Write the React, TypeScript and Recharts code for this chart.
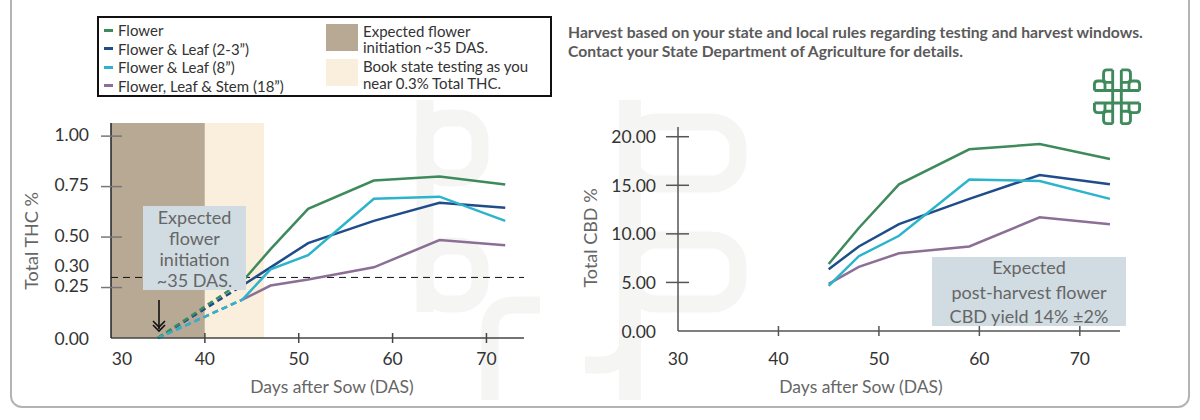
import React from "react"
import { LineChart, Line, XAxis, YAxis, ReferenceArea, ReferenceLine } from "recharts"

// sampling days (DAS) for each panel
const thcDays = [35, 44, 47, 51, 58, 65, 72]
const cbdDays = [45, 48, 52, 59, 66, 73]

// Total THC % (left panel); first two samples are drawn dashed
const thcFlower = [0, 0.28, 0.44, 0.64, 0.78, 0.8, 0.76]
const thcLeaf23 = [0, 0.26, 0.35, 0.47, 0.58, 0.67, 0.645]
const thcLeaf8 = [0, 0.19, 0.34, 0.41, 0.69, 0.7, 0.58]
const thcStem18 = [0, 0.19, 0.26, 0.29, 0.35, 0.485, 0.46]
const dashedUntil = 1 // index of last dashed sample (44 DAS)

// Total CBD % (right panel)
const cbdFlower = [6.9, 10.6, 15.1, 18.7, 19.25, 17.7]
const cbdLeaf23 = [6.35, 8.7, 11.0, 13.6, 16.05, 15.1]
const cbdLeaf8 = [4.65, 7.7, 9.8, 15.6, 15.45, 13.6]
const cbdStem18 = [4.85, 6.6, 8.0, 8.7, 11.7, 11.0]

const dayTicks = [30, 40, 50, 60, 70]
const thcTicks = [0, 0.25, 0.3, 0.5, 0.75, 1]
const cbdTicks = [0, 5, 10, 15, 20]

const seriesNames = ["Flower", "Flower & Leaf (2-3\u201d)", "Flower & Leaf (8\u201d)", "Flower, Leaf & Stem (18\u201d)"]
const seriesColors = ["#3f8a5c", "#1f4d8a", "#2bb4cc", "#8b6f95"]
const drawOrder = [3, 1, 0, 2]

const thcSeries = [thcFlower, thcLeaf23, thcLeaf8, thcStem18]
const cbdSeries = [cbdFlower, cbdLeaf23, cbdLeaf8, cbdStem18]

const font = "Lato, 'Open Sans', 'DejaVu Sans', sans-serif"

const thcRows = thcDays.map((day, i) => {
    const row: Record<string, number | null> = { day }
    thcSeries.forEach((s, k) => {
        row[`e${k}`] = i <= dashedUntil ? s[i] : null
        row[`l${k}`] = i >= dashedUntil ? s[i] : null
    })
    return row
})

const cbdRows = cbdDays.map((day, i) => {
    const row: Record<string, number> = { day }
    cbdSeries.forEach((s, k) => {
        row[`s${k}`] = s[i]
    })
    return row
})

function ThcYTick(props: any) {
    const { x, y, payload } = props
    const v = payload.value as number
    const dy = v === 0.3 ? -12 : -2
    return (
        <g>
            {v !== 0 && v !== 0.3 && <line x1={x - 10} x2={x + 11} y1={y} y2={y} stroke="#777" strokeWidth={1.5} />}
            <text x={x - 22} y={y + (v === 0 ? 0 : dy)} textAnchor="end" dominantBaseline="central" fontSize={17.5} fill="#333" fontFamily={font}>
                {v.toFixed(2)}
            </text>
        </g>
    )
}

function CbdYTick(props: any) {
    const { x, y, payload } = props
    const v = payload.value as number
    return (
        <g>
            {v !== 0 && <line x1={x - 12} x2={x + 11} y1={y} y2={y} stroke="#555" strokeWidth={1.5} />}
            <text x={x - 22} y={y} textAnchor="end" dominantBaseline="central" fontSize={17.5} fill="#333" fontFamily={font}>
                {v.toFixed(2)}
            </text>
        </g>
    )
}

function makeXTick(dyLabel: number, firstShift: number, color: string) {
    return function XTick(props: any) {
        const { x, y, payload } = props
        const v = payload.value as number
        return (
            <g>
                {v !== 30 && <line x1={x} x2={x} y1={y - 5} y2={y + 5} stroke={color} strokeWidth={1.5} />}
                <text x={v === 30 ? x + firstShift : x} y={y + dyLabel} textAnchor="middle" dominantBaseline="central" fontSize={17.5} fill="#333" fontFamily={font}>
                    {v}
                </text>
            </g>
        )
    }
}

const ThcXTick = makeXTick(20, 11, "#444")
const CbdXTick = makeXTick(27, 0, "#555")

function logoPaths() {
    return [
        "M41,4 L41,116", "M59,4 L59,116", "M3,47 L97,47", "M3,73 L97,73",
        "M41,30 L29,30 Q22,30 22,23 L22,11 Q22,4 29,4 L41,4",
        "M59,30 L71,30 Q78,30 78,23 L78,11 Q78,4 71,4 L59,4",
        "M41,90 L29,90 Q22,90 22,97 L22,109 Q22,116 29,116 L41,116",
        "M59,90 L71,90 Q78,90 78,97 L78,109 Q78,116 71,116 L59,116",
        "M3,47 L3,34 Q3,27 10,27 L18,27 Q25,27 25,34 L25,47",
        "M97,47 L97,34 Q97,27 90,27 L82,27 Q75,27 75,34 L75,47",
        "M3,73 L3,86 Q3,93 10,93 L18,93 Q25,93 25,86 L25,73",
        "M97,73 L97,86 Q97,93 90,93 L82,93 Q75,93 75,86 L75,73",
    ]
}

export default function App() {
    return (
        <div style={{ position: "absolute", left: 0, top: 0, width: 1200, height: 420, background: "#fff", overflow: "hidden", fontFamily: font }}>
            {/* frame */}
            <div style={{ position: "absolute", left: 10, top: -20, width: 1176, height: 424, border: "2px solid #b3b3b3", borderRadius: 12 }} />

            {/* faint watermark */}
            <svg width={1200} height={420} style={{ position: "absolute", left: 0, top: 0 }}>
                <g stroke="#f5f6f4" strokeWidth={17} fill="none" strokeLinejoin="round">
                    <path d="M425,100 L425,312" />
                    <rect x={425} y={118} width={55} height={60} rx={22} />
                    <rect x={425} y={246} width={55} height={58} rx={22} />
                    <path d="M490,400 L490,330 Q490,305 515,305 L540,305" />
                    <path d="M630,100 L630,400" strokeWidth={22} />
                    <rect x={630} y={122} width={108} height={62} rx={26} />
                    <rect x={630} y={240} width={108} height={64} rx={26} />
                    <path d="M630,330 Q630,365 600,365 L585,365" />
                </g>
            </svg>

            {/* left panel: Total THC % */}
            <div style={{ position: "absolute", left: 0, top: 0 }}>
                <LineChart width={560} height={420} data={thcRows} margin={{ top: 123, left: 51, right: 36, bottom: 42 }}>
                    <ReferenceArea x1={30} x2={40} y1={0} y2={1.065} fill="#b8a994" fillOpacity={1} stroke="none" />
                    <ReferenceArea x1={40} x2={46.3} y1={0} y2={1.065} fill="#faeedd" fillOpacity={1} stroke="none" />
                    <XAxis
                        dataKey="day"
                        type="number"
                        domain={[30, 74]}
                        ticks={dayTicks}
                        interval={0}
                        height={40}
                        tickSize={0}
                        tickMargin={0}
                        tickLine={false}
                        tick={<ThcXTick />}
                        axisLine={{ stroke: "#444", strokeWidth: 1.5 }}
                    />
                    <YAxis
                        type="number"
                        domain={[0, 1.065]}
                        ticks={thcTicks}
                        interval={0}
                        width={60}
                        tickSize={0}
                        tickMargin={0}
                        tickLine={false}
                        tick={<ThcYTick />}
                        axisLine={{ stroke: "#222", strokeWidth: 1.5 }}
                    />
                    <ReferenceLine y={0.3} stroke="#111" strokeDasharray="7 5" strokeWidth={1} />
                    {drawOrder.map((k) => (
                        <Line
                            key={`e${k}`}
                            dataKey={`e${k}`}
                            name={seriesNames[k]}
                            type="linear"
                            stroke={seriesColors[k]}
                            strokeWidth={2.5}
                            strokeDasharray="6 4"
                            dot={false}
                            activeDot={false}
                            isAnimationActive={false}
                        />
                    ))}
                    {drawOrder.map((k) => (
                        <Line
                            key={`l${k}`}
                            dataKey={`l${k}`}
                            name={seriesNames[k]}
                            type="linear"
                            stroke={seriesColors[k]}
                            strokeWidth={2.5}
                            dot={false}
                            activeDot={false}
                            isAnimationActive={false}
                        />
                    ))}
                </LineChart>
            </div>

            {/* right panel: Total CBD % */}
            <div style={{ position: "absolute", left: 560, top: 0 }}>
                <LineChart width={640} height={420} data={cbdRows} margin={{ top: 127, left: 58, right: 80, bottom: 49 }}>
                    <XAxis
                        dataKey="day"
                        type="number"
                        domain={[30, 74]}
                        ticks={dayTicks}
                        interval={0}
                        height={40}
                        tickSize={0}
                        tickMargin={0}
                        tickLine={false}
                        tick={<CbdXTick />}
                        axisLine={{ stroke: "#555", strokeWidth: 1.5 }}
                    />
                    <YAxis
                        type="number"
                        domain={[0, 21]}
                        ticks={cbdTicks}
                        interval={0}
                        width={60}
                        tickSize={0}
                        tickMargin={0}
                        tickLine={false}
                        tick={<CbdYTick />}
                        axisLine={{ stroke: "#555", strokeWidth: 1.5 }}
                    />
                    {drawOrder.map((k) => (
                        <Line
                            key={`s${k}`}
                            dataKey={`s${k}`}
                            name={seriesNames[k]}
                            type="linear"
                            stroke={seriesColors[k]}
                            strokeWidth={2.5}
                            dot={false}
                            activeDot={false}
                            isAnimationActive={false}
                        />
                    ))}
                </LineChart>
            </div>

            {/* annotations, axis titles, logo */}
            <svg width={1200} height={420} style={{ position: "absolute", left: 0, top: 0, pointerEvents: "none" }} fontFamily={font}>
                <rect x={143} y={206} width={103} height={84} fill="#d0dce2" />
                {["Expected", "flower", "initiation", "~35 DAS."].map((t, i) => (
                    <text key={t} x={194.5} y={217 + i * 21} textAnchor="middle" dominantBaseline="central" fontSize={18} fill="#666">
                        {t}
                    </text>
                ))}
                <g stroke="#111" strokeWidth={1.6} fill="none">
                    <line x1={159} x2={159} y1={300} y2={329} />
                    <polyline points="153,321 159,327 165,321" />
                    <polyline points="153,325 159,331 165,325" />
                </g>

                <rect x={932} y={257} width={194} height={69} fill="#d0dce2" />
                {["Expected", "post-harvest flower", "CBD yield 14% \u00b12%"].map((t, i) => (
                    <text key={t} x={1029} y={267 + i * 24.5} textAnchor="middle" dominantBaseline="central" fontSize={18} fill="#666">
                        {t}
                    </text>
                ))}

                <text transform="translate(31,241) rotate(-90)" textAnchor="middle" dominantBaseline="central" fontSize={18} fill="#666">
                    Total THC %
                </text>
                <text transform="translate(590,238) rotate(-90)" textAnchor="middle" dominantBaseline="central" fontSize={18} fill="#666">
                    Total CBD %
                </text>
                <text x={332} y={386} textAnchor="middle" dominantBaseline="central" fontSize={17.5} fill="#666">
                    Days after Sow (DAS)
                </text>
                <text x={861} y={386} textAnchor="middle" dominantBaseline="central" fontSize={17.5} fill="#666">
                    Days after Sow (DAS)
                </text>

                <g transform="translate(1093,68) scale(0.48)" stroke="#3e8a5a" strokeWidth={6} fill="none">
                    {logoPaths().map((d) => (
                        <path key={d} d={d} />
                    ))}
                </g>
            </svg>

            {/* legend */}
            <div style={{ position: "absolute", left: 97, top: 16, width: 451, height: 77, border: "2px solid #111", background: "#fff" }}>
                {seriesNames.map((n, k) => (
                    <div key={n} style={{ position: "absolute", left: 5, top: 3 + k * 18.5, height: 18, display: "flex", alignItems: "center", fontSize: 15, color: "#333", whiteSpace: "nowrap" }}>
                        <span style={{ display: "inline-block", width: 9, height: 3, background: seriesColors[k], marginRight: 5 }} />
                        {n}
                    </div>
                ))}
                <div style={{ position: "absolute", left: 227, top: 6, width: 32, height: 27, background: "#b8a994" }} />
                <div style={{ position: "absolute", left: 227, top: 41, width: 32, height: 27, background: "#faeedd" }} />
                <div style={{ position: "absolute", left: 264, top: 5, fontSize: 15, lineHeight: "16px", color: "#333", whiteSpace: "nowrap" }}>
                    Expected flower
                    <br />
                    initiation ~35 DAS.
                </div>
                <div style={{ position: "absolute", left: 264, top: 40, fontSize: 15, lineHeight: "16.5px", color: "#333", whiteSpace: "nowrap" }}>
                    Book state testing as you
                    <br />
                    near 0.3% Total THC.
                </div>
            </div>

            {/* note */}
            <div style={{ position: "absolute", left: 568, top: 23, fontSize: 15.7, lineHeight: "19px", fontWeight: 700, color: "#5a5a5a", whiteSpace: "nowrap" }}>
                Harvest based on your state and local rules regarding testing and harvest windows.
                <br />
                Contact your State Department of Agriculture for details.
            </div>
        </div>
    )
}
